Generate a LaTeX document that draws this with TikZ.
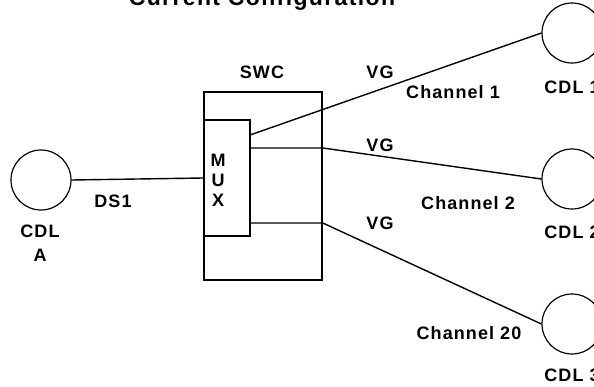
\documentclass[tikz,border=0pt]{standalone}
\usepackage{fontspec}
\setmainfont{Liberation Sans}
\newfontfamily\lblfont[LetterSpace=6.0]{Liberation Sans}
\begin{document}
\begin{tikzpicture}[x=0.5pt,y=-0.5pt,
	cdl/.style={draw,circle,line width=0.6pt,minimum size=30pt,inner sep=0pt},
	lbl/.style={font=\lblfont\bfseries\fontsize{9}{10}\selectfont,inner sep=0pt},
	box/.style={draw,rectangle,line width=0.8pt,inner sep=0pt},
	link/.style={line width=0.7pt}]
	
	\useasboundingbox (0,0) rectangle (594,386);
	
	\node[lbl,anchor=base,font=\lblfont\bfseries\fontsize{11.5}{13}\selectfont] (title) at (262,5) {Current Configuration};
	
	% switching centre and multiplexer
	\node[box,minimum width=59pt,minimum height=94pt] (swc) at (263,186) {};
	\node[lbl] (swclbl) at (262,72) {SWC};
	\node[box,minimum width=23pt,minimum height=58pt] (mux) at (227,178) {};
	\node[lbl,align=center] (muxlbl) at (218,180) {M\\U\\X};
	
	% data links
	\node[cdl] (cdlA) at (41,180) {};
	\node[lbl] (cdlAlbl) at (40,231) {CDL};
	\node[lbl] (cdlAsub) at (40,255) {A};
	
	\node[cdl] (cdl1) at (572,33) {};
	\node[lbl] (cdl1lbl) at (572,87) {CDL 1};
	
	\node[cdl] (cdl2) at (572,179) {};
	\node[lbl] (cdl2lbl) at (572,232) {CDL 2};
	
	\node[cdl] (cdl3) at (572,324) {};
	\node[lbl] (cdl3lbl) at (572,375) {CDL 3};
	
	\coordinate (m1) at (250,135);
	\coordinate (m2) at (250,148);
	\coordinate (m3) at (250,223);
	
	\draw[link] (cdlA.east)--(mux.west);
	\draw[link] (m1)--(cdl1.west);
	\draw[link] (m2)--(swc.east |- m2)--(cdl2.west);
	\draw[link] (m3)--(swc.east |- m3)--(cdl3.west);
	
	\node[lbl] (ds1) at (113,201) {DS1};
	\node[lbl] (vg1) at (380,72) {VG};
	\node[lbl] (vg2) at (380,145) {VG};
	\node[lbl] (vg3) at (380,223) {VG};
	\node[lbl] (ch1) at (453,92) {Channel 1};
	\node[lbl] (ch2) at (468,203) {Channel 2};
	\node[lbl] (ch20) at (469,333) {Channel 20};
\end{tikzpicture}
\end{document}
